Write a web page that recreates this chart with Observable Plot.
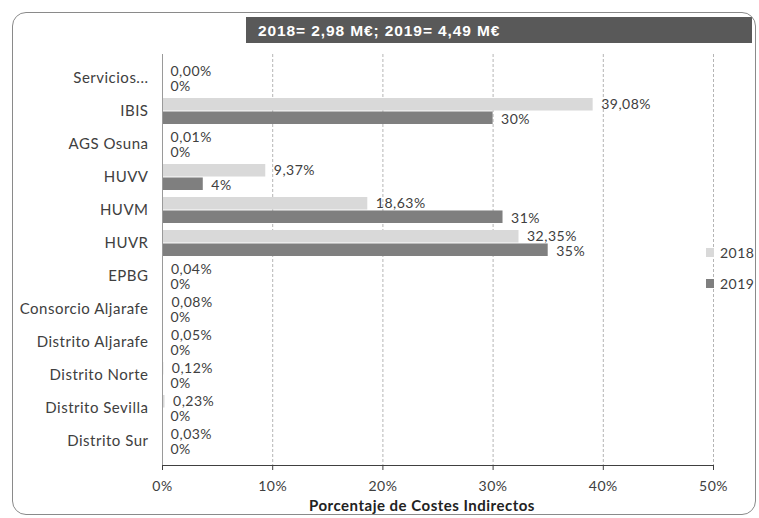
<!DOCTYPE html>
<html>
<head>
<meta charset="utf-8">
<script src="https://cdn.jsdelivr.net/npm/d3@7"></script>
<script src="https://cdn.jsdelivr.net/npm/@observablehq/plot@0.6"></script>
<style>
  html, body { margin: 0; padding: 0; background: #fff; }
  #wrap { position: relative; width: 759px; height: 518px; overflow: hidden; font-family: Lato, "Open Sans", sans-serif; }
  #border { position: absolute; left: 12px; top: 12px; width: 744px; height: 503px; border: 1.5px solid #8a8a8a; border-radius: 14px; box-sizing: border-box; pointer-events: none; }
  #banner { position: absolute; left: 246px; top: 17px; width: 506px; height: 26px; background: #595959; color: #fff; font-family: "Liberation Sans", Arial, sans-serif; font-weight: bold; font-size: 15.5px; letter-spacing: 0.9px; line-height: 27px; padding-left: 12px; box-sizing: border-box; }
  #legend { position: absolute; left: 706px; top: 242px; font-size: 14px; letter-spacing: 0.5px; color: #404040; font-family: Lato, sans-serif; }
  #legend div { display: flex; align-items: center; height: 20px; margin-bottom: 11px; }
  #legend span.sw { display: inline-block; width: 8px; height: 9px; margin-right: 6px; }
  #chart { position: absolute; left: 0; top: 0; }
  #chart [aria-label^="x-axis"] text { font-size: 14px; }
</style>
</head>
<body>
<div id="wrap">
  <div id="chart"></div>
  <div id="banner"></div>
  <div id="legend"></div>
  <div id="border"></div>
</div>
<script>
const categories = ["Servicios...", "IBIS", "AGS Osuna", "HUVV", "HUVM", "HUVR", "EPBG",
  "Consorcio Aljarafe", "Distrito Aljarafe", "Distrito Norte", "Distrito Sevilla", "Distrito Sur"];
const values2018 = [0.00, 39.08, 0.01, 9.37, 18.63, 32.35, 0.04, 0.08, 0.05, 0.12, 0.23, 0.03];
const values2019 = [0, 30, 0, 3.7, 30.9, 35, 0, 0, 0, 0, 0, 0];
const labels2018 = ["0,00%", "39,08%", "0,01%", "9,37%", "18,63%", "32,35%", "0,04%", "0,08%", "0,05%", "0,12%", "0,23%", "0,03%"];
const labels2019 = ["0%", "30%", "0%", "4%", "31%", "35%", "0%", "0%", "0%", "0%", "0%", "0%"];
const series = ["2018", "2019"];
const seriesColors = ["#d9d9d9", "#7f7f7f"];
const xTicks = [0, 10, 20, 30, 40, 50];
const titleText = "2018= 2,98 M€; 2019= 4,49 M€";
const xLabel = "Porcentaje de Costes Indirectos";

const d18 = categories.map((c, i) => ({cat: c, v: values2018[i], label: labels2018[i]}));
const d19 = categories.map((c, i) => ({cat: c, v: values2019[i], label: labels2019[i]}));

const W = 759, H = 518;
const mTop = 54, mBottom = 53, mLeft = 162, mRight = 46;
const pad = 0.2;
const step = (H - mTop - mBottom) / (categories.length - pad + 2 * pad);
const half = step * (1 - pad) / 2;

const plot = Plot.plot({
  width: W,
  height: H,
  marginTop: mTop,
  marginBottom: mBottom,
  marginLeft: mLeft,
  marginRight: mRight,
  style: {fontFamily: "Lato, 'Open Sans', sans-serif", fontSize: "15px", letterSpacing: "0.5px", color: "#404040", background: "transparent"},
  x: {domain: [0, 50], ticks: xTicks, tickFormat: d => d + "%", label: null, line: true, tickSize: 5, tickPadding: 11},
  y: {domain: categories, padding: pad, label: null, tickSize: 0, tickPadding: 14},
  marks: [
    Plot.ruleX(xTicks.filter(d => d > 0), {stroke: "#b5b5b5", strokeDasharray: "3,2"}),
    Plot.barX(d18, {y: "cat", x: "v", fill: seriesColors[0], insetBottom: half}),
    Plot.barX(d19, {y: "cat", x: "v", fill: seriesColors[1], insetTop: half}),
    Plot.ruleX([0], {stroke: "#9a9a9a"}),
    Plot.text(d18, {y: "cat", x: "v", text: "label", dx: 8, dy: -7, textAnchor: "start", fill: "#404040", fontSize: 14}),
    Plot.text(d19, {y: "cat", x: "v", text: "label", dx: 8, dy: 8, textAnchor: "start", fill: "#404040", fontSize: 14}),
    Plot.text([xLabel], {frameAnchor: "bottom", dy: 45, dx: -16, fontWeight: "bold", fill: "#222", fontSize: 15})
  ]
});
document.getElementById("chart").appendChild(plot);
document.getElementById("banner").textContent = titleText;
const leg = document.getElementById("legend");
series.forEach((s, i) => {
  const row = document.createElement("div");
  const sw = document.createElement("span");
  sw.className = "sw";
  sw.style.background = seriesColors[i];
  row.appendChild(sw);
  row.appendChild(document.createTextNode(s));
  leg.appendChild(row);
});
</script>
</body>
</html>
